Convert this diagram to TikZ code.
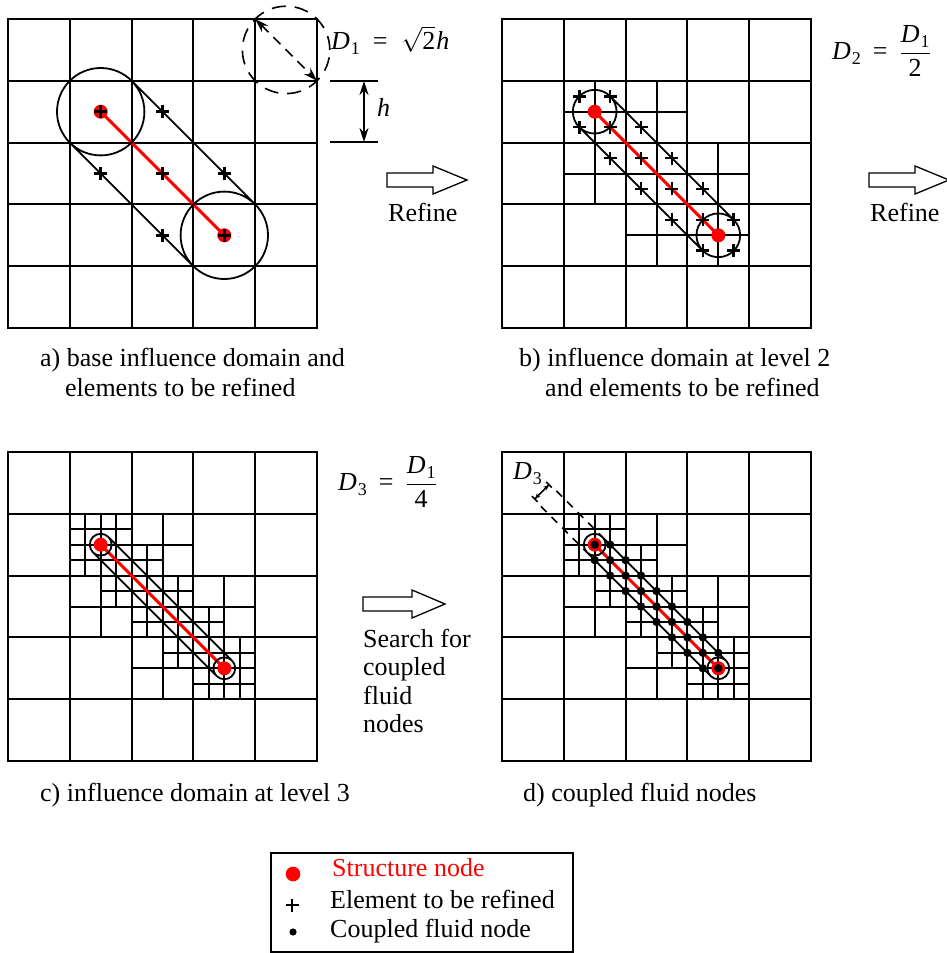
\documentclass[tikz,border=0pt]{standalone}
\usepackage{fontspec}
\setmainfont{Liberation Serif}
\usetikzlibrary{arrows.meta}
\definecolor{sred}{RGB}{255,0,0}
\tikzset{
  gridline/.style={line width=2pt, line cap=rect},
  capsule/.style={line width=1.8pt},
  redseg/.style={sred, line width=3pt},
  plusmark/.style={line width=2.6pt},
  blockarr/.style={line width=1.3pt, line join=miter},
  txt/.style={inner sep=0pt, anchor=base west, font=\fontsize{26}{30}\selectfont},
  dimline/.style={line width=1.6pt},
  legendbox/.style={line width=2pt},
}
\newcommand\Dsub[1]{\textit{D}\kern1pt\raisebox{-5pt}{\fontsize{18}{18}\selectfont #1}}
\newcommand\hollowarrow[4]{%
  \draw[blockarr] (#1,#2) ++(0,-7) -- ++(#3,0) -- ++(0,-7) -- ++(#4,14) -- ++(-#4,14) -- ++(0,-7) -- ++(-#3,0) -- cycle;}
\newcommand\plusat[2]{\draw[plusmark] (#1,#2) ++(-6.5pt,0) -- ++(13pt,0) (#1,#2) ++(0,-6.5pt) -- ++(0,13pt);}
\newcommand\basegrid{%
  \foreach \i in {0,...,5} {\draw[gridline] (\i,0) -- (\i,5); \draw[gridline] (0,\i) -- (5,\i);}}
\newcommand\leveltwo{%
  \draw[gridline] (1.5,1) -- (1.5,3) (2.5,1) -- (2.5,4) (3.5,2) -- (3.5,4)
                  (1,1.5) -- (3,1.5) (1,2.5) -- (4,2.5) (2,3.5) -- (4,3.5);}
\newcommand\levelthree{%
  \foreach \a/\b in {1/1,1.5/1,1/1.5,1.5/1.5,2/1.5,1.5/2,2/2,2.5/2,2/2.5,2.5/2.5,3/2.5,2.5/3,3/3,3.5/3,3/3.5,3.5/3.5}
    {\draw[gridline] (\a+0.25,\b) -- (\a+0.25,\b+0.5) (\a,\b+0.25) -- (\a+0.5,\b+0.25);}}
\begin{document}
\begin{tikzpicture}[x=1pt,y=-1pt]
\useasboundingbox (0,0) rectangle (947,953);

% ---------------- panel a
\begin{scope}[shift={(8,19)}, x=61.8pt, y=-61.8pt]
  \basegrid
  \draw[redseg] (1.5,1.5) -- (3.5,3.5);
  \draw[capsule] (1.5,1.5) circle[radius=43.7pt] (3.5,3.5) circle[radius=43.7pt]
                 (2,1) -- (4,3) (1,2) -- (3,4);
  \fill[sred] (1.5,1.5) circle[radius=7pt] (3.5,3.5) circle[radius=7pt];
  \foreach \x/\y in {1.5/1.5,2.5/1.5,1.5/2.5,2.5/2.5,3.5/2.5,2.5/3.5,3.5/3.5} {\plusat{\x}{\y}}
  \draw[dimline, dash pattern=on 14pt off 9pt] (4.5,0.5) circle[radius=43.7pt];
  \coordinate (d1a) at (4,0);
  \coordinate (d1b) at (5,1);
  \draw[dimline, dash pattern=on 10pt off 7pt, {Stealth[length=14pt,width=9pt]}-{Stealth[length=14pt,width=9pt]}] (d1a) -- (d1b);
\end{scope}
\coordinate (h1a) at (330,81);  \coordinate (h1b) at (378,81);
\coordinate (h2a) at (330,142); \coordinate (h2b) at (378,142);
\coordinate (hup) at (364,81);  \coordinate (hdn) at (364,142);
\draw[dimline] (h1a) -- (h1b) (h2a) -- (h2b);
\draw[dimline, {Stealth[length=14pt,width=9pt]}-{Stealth[length=14pt,width=9pt]}] (hup) -- (hdn);
\node[txt] (hlab) at (377,116) {\textit{h}};
\node[txt] (eqD1) at (331,49) {\Dsub{1}\hspace{13pt}=\hspace{14pt}$\sqrt{\hbox{2}}$\kern1pt\textit{h}};
\hollowarrow{387}{180}{46}{34}
\node[txt] (refA) at (388,221) {Refine};
\node[txt] (capa1) at (40,366) {a) base influence domain and};
\node[txt] (capa2) at (65,396) {elements to be refined};

% ---------------- panel b
\begin{scope}[shift={(502,19)}, x=61.8pt, y=-61.8pt]
  \basegrid
  \leveltwo
  \draw[redseg] (1.5,1.5) -- (3.5,3.5);
  \draw[capsule] (1.5,1.5) circle[radius=21.85pt] (3.5,3.5) circle[radius=21.85pt]
                 (1.75,1.25) -- (3.75,3.25) (1.25,1.75) -- (3.25,3.75);
  \fill[sred] (1.5,1.5) circle[radius=7pt] (3.5,3.5) circle[radius=7pt];
  \foreach \x/\y in {1.25/1.25,1.75/1.25,1.25/1.75,1.75/1.75,2.25/1.75,1.75/2.25,2.25/2.25,2.75/2.25,
                     2.25/2.75,2.75/2.75,3.25/2.75,2.75/3.25,3.25/3.25,3.75/3.25,3.25/3.75,3.75/3.75} {\plusat{\x}{\y}}
\end{scope}
\node[txt] (eqD2) at (832,59) {\Dsub{2}\hspace{12pt}=\hspace{12pt}$\displaystyle\frac{\hbox{\Dsub{1}}}{\hbox{2}}$};
\hollowarrow{869}{180}{46}{34}
\node[txt] (refB) at (870,221) {Refine};
\node[txt] (capb1) at (519,366) {b) influence domain at level 2};
\node[txt] (capb2) at (545,396) {and elements to be refined};

% ---------------- panel c
\begin{scope}[shift={(8,452)}, x=61.8pt, y=-61.8pt]
  \basegrid
  \leveltwo
  \levelthree
  \draw[redseg] (1.5,1.5) -- (3.5,3.5);
  \draw[capsule] (1.5,1.5) circle[radius=10.92pt] (3.5,3.5) circle[radius=10.92pt]
                 (1.625,1.375) -- (3.625,3.375) (1.375,1.625) -- (3.375,3.625);
  \fill[sred] (1.5,1.5) circle[radius=7pt] (3.5,3.5) circle[radius=7pt];
\end{scope}
\node[txt] (eqD3) at (338,490) {\Dsub{3}\hspace{12pt}=\hspace{12pt}$\displaystyle\frac{\hbox{\Dsub{1}}}{\hbox{4}}$};
\hollowarrow{363}{604}{49}{33}
\node[txt] (s1) at (363,647) {Search for};
\node[txt] (s2) at (363,675.5) {coupled};
\node[txt] (s3) at (363,704) {fluid};
\node[txt] (s4) at (363,732) {nodes};
\node[txt] (capc) at (40,801) {c) influence domain at level 3};

% ---------------- panel d
\begin{scope}[shift={(502,452)}, x=61.8pt, y=-61.8pt]
  \basegrid
  \leveltwo
  \levelthree
  \draw[redseg] (1.5,1.5) -- (3.5,3.5);
  \draw[capsule] (1.5,1.5) circle[radius=10.92pt] (3.5,3.5) circle[radius=10.92pt]
                 (1.625,1.375) -- (3.625,3.375) (1.375,1.625) -- (3.375,3.625);
  \fill[sred] (1.5,1.5) circle[radius=7pt] (3.5,3.5) circle[radius=7pt];
  \foreach \t in {1.5,1.75,...,3.5} {\fill (\t,\t) circle[radius=4.2pt];}
  \foreach \t in {1.5,1.75,...,3.25} {\fill (\t+0.25,\t) circle[radius=4.2pt] (\t,\t+0.25) circle[radius=4.2pt];}
  \coordinate (u0) at (0.88,0.63);  \coordinate (u1) at (1.625,1.375);
  \coordinate (l0) at (0.63,0.88);  \coordinate (l1) at (1.375,1.625);
  \draw[dimline, dash pattern=on 8pt off 7pt] (u0) -- (u1) (l0) -- (l1);
  \coordinate (da) at (0.77,0.52);
  \coordinate (db) at (0.52,0.77);
  \draw[line width=1.6pt, {Bar[width=8pt]Stealth[length=5pt,width=5pt]}-{Stealth[length=5pt,width=5pt]Bar[width=8pt]}] (da) -- (db);
\end{scope}
\node[txt] (dlab) at (513,479) {\Dsub{3}};
\node[txt] (capd) at (523,801) {d) coupled fluid nodes};

% ---------------- legend
\draw[legendbox] (271,853) rectangle (573,952);
\fill[sred] (293,874) circle[radius=7.3pt];
\node[txt, text=sred] (lg1) at (332,876) {Structure node};
\plusat{292}{905}
\node[txt] (lg2) at (330,908) {Element to be refined};
\fill (293,932) circle[radius=3.6pt];
\node[txt] (lg3) at (330,937) {Coupled fluid node};
\end{tikzpicture}
\end{document}
